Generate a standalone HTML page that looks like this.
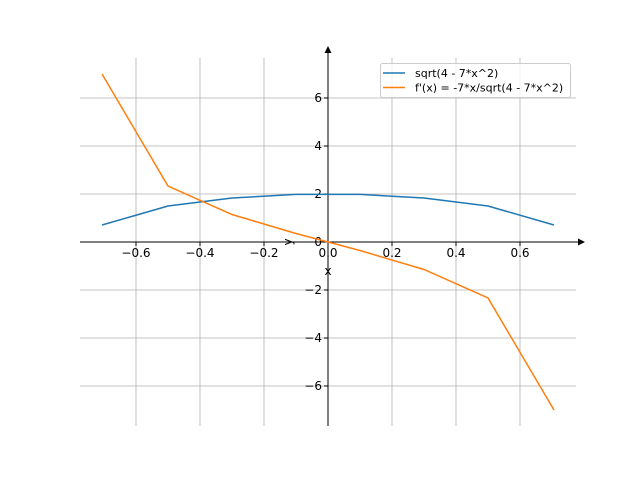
<!DOCTYPE html>
<html><head><style>body{margin:0;background:#fff}</style></head><body>
<svg width="640" height="480" xmlns="http://www.w3.org/2000/svg" font-family="DejaVu Sans, sans-serif">
<rect width="640" height="480" fill="#fff"/>
<g stroke="#b0b0b0" stroke-width="0.8">
<line x1="136" y1="58" x2="136" y2="426"/><line x1="200" y1="58" x2="200" y2="426"/><line x1="264" y1="58" x2="264" y2="426"/>
<line x1="392" y1="58" x2="392" y2="426"/><line x1="456" y1="58" x2="456" y2="426"/><line x1="520" y1="58" x2="520" y2="426"/>
<line x1="80" y1="98" x2="576" y2="98"/><line x1="80" y1="146" x2="576" y2="146"/><line x1="80" y1="194" x2="576" y2="194"/>
<line x1="80" y1="290" x2="576" y2="290"/><line x1="80" y1="338" x2="576" y2="338"/><line x1="80" y1="386" x2="576" y2="386"/>
</g>
<g stroke="#000" stroke-width="1">
<line x1="80" y1="242" x2="580" y2="242"/><line x1="328" y1="426" x2="328" y2="52"/>
<line x1="136" y1="242" x2="136" y2="246"/><line x1="200" y1="242" x2="200" y2="246"/><line x1="264" y1="242" x2="264" y2="246"/><line x1="328" y1="242" x2="328" y2="246"/><line x1="392" y1="242" x2="392" y2="246"/><line x1="456" y1="242" x2="456" y2="246"/><line x1="520" y1="242" x2="520" y2="246"/>
<line x1="324" y1="98" x2="328" y2="98"/><line x1="324" y1="146" x2="328" y2="146"/><line x1="324" y1="194" x2="328" y2="194"/><line x1="324" y1="242" x2="328" y2="242"/><line x1="324" y1="290" x2="328" y2="290"/><line x1="324" y1="338" x2="328" y2="338"/><line x1="324" y1="386" x2="328" y2="386"/>
</g>
<polygon points="585,242 578,238.5 578,245.5" fill="#000"/>
<polygon points="328,46 324.5,53 331.5,53" fill="#000"/>
<g font-size="12" fill="#000" text-anchor="middle">
<text x="136" y="257">−0.6</text><text x="200" y="257">−0.4</text><text x="264" y="257">−0.2</text><text x="328" y="257">0.0</text><text x="392" y="257">0.2</text><text x="456" y="257">0.4</text><text x="520" y="257">0.6</text>
</g>
<g font-size="12" fill="#000" text-anchor="end">
<text x="322" y="102">6</text><text x="322" y="150">4</text><text x="322" y="198">2</text><text x="322" y="246">0</text><text x="322" y="294">−2</text><text x="322" y="342">−4</text><text x="322" y="390">−6</text>
</g>
<text x="328" y="275" font-size="12" text-anchor="middle">x</text>
<text transform="translate(292,242) rotate(-90)" font-size="12" text-anchor="middle">y</text>
<polyline fill="none" stroke="#1f77b4" stroke-width="1.5" points="102,225 168,206 232,198 296,194.4 360,194.4 424,198 488,206 554,225"/>
<polyline fill="none" stroke="#ff7f0e" stroke-width="1.5" points="102,74 168,186 232,214.5 296,233.5 360,250.5 424,269.5 488,298 554,410"/>
<rect x="380.5" y="63.5" width="190" height="34" fill="#fff" fill-opacity="0.8" stroke="#ccc" rx="2"/>
<line x1="383" y1="73" x2="405" y2="73" stroke="#1f77b4" stroke-width="1.5"/>
<line x1="383" y1="87.5" x2="405" y2="87.5" stroke="#ff7f0e" stroke-width="1.5"/>
<text x="415" y="77" font-size="11">sqrt(4 - 7*x^2)</text>
<text x="415" y="91.5" font-size="11">f'(x) = -7*x/sqrt(4 - 7*x^2)</text>
</svg>
</body></html>
